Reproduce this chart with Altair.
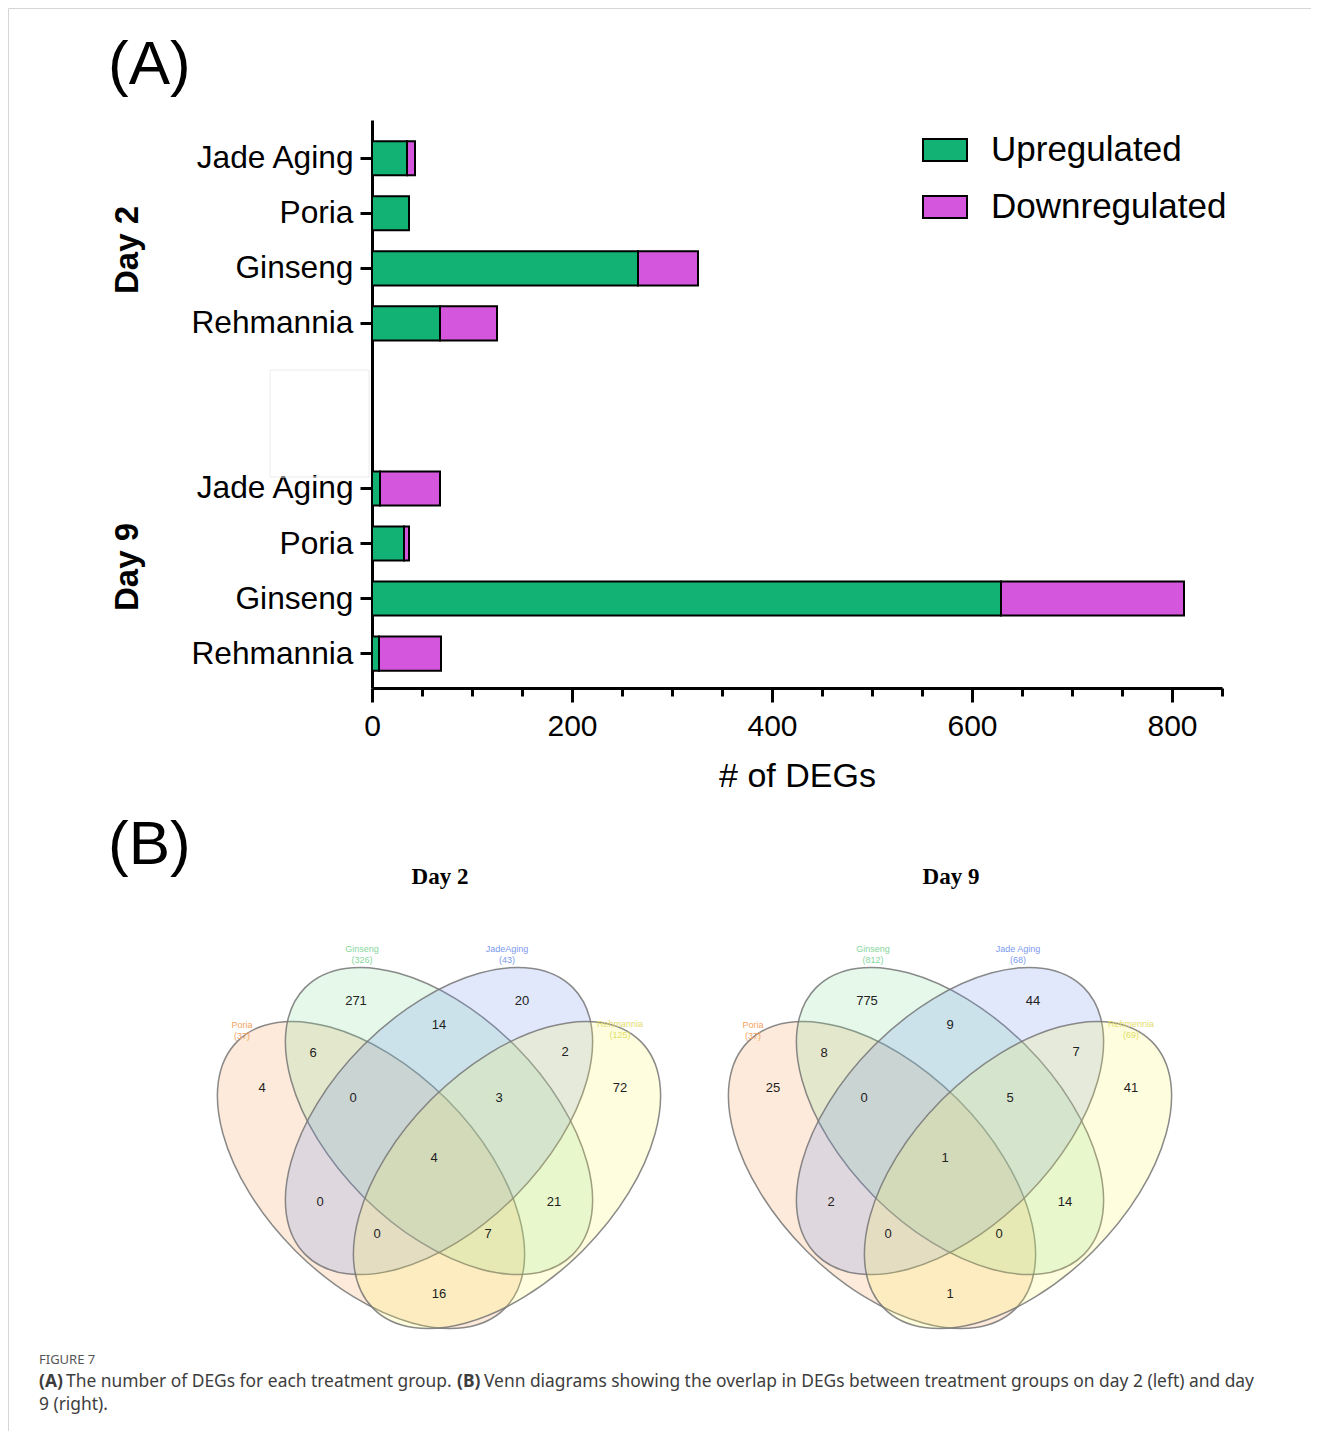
import altair as alt
import pandas as pd

# ---------------- data ----------------
treatments = ["Jade Aging", "Poria", "Ginseng", "Rehmannia"]
day_labels = ["Day 2", "Day 9"]
up_day2 = [35, 37, 266, 68]
down_day2 = [8, 0, 60, 57]
up_day9 = [8, 32, 629, 7]
down_day9 = [60, 5, 183, 62]
directions = ["Upregulated", "Downregulated"]
x_label_ticks = [0, 200, 400, 600, 800]

venn_titles = ["Day 2", "Day 9"]
venn_set_keys = ["P", "G", "J", "R"]
venn_set_names_day2 = ["Poria", "Ginseng", "JadeAging", "Rehmannia"]
venn_set_names_day9 = ["Poria", "Ginseng", "Jade Aging", "Rehmennia"]
venn_regions = ["G", "J", "GJ", "PG", "JR", "P", "PGJ", "GJR", "R", "PGJR", "PJ", "GR", "PJR", "PGR", "PR"]
venn_day2 = [271, 20, 14, 6, 2, 4, 0, 3, 72, 4, 0, 21, 0, 7, 16]
venn_day9 = [775, 44, 9, 8, 7, 25, 0, 5, 41, 1, 2, 14, 0, 0, 1]

caption_head = "FIGURE 7"
caption_parts = ["(A)", "The number of DEGs for each treatment group.", "(B)",
                 "Venn diagrams showing the overlap in DEGs between treatment groups on day 2 (left) and day"]
caption_line2 = "9  (right)."

# ---------------- styles / layout (pixels relative to the bar plot origin) ----------------
FONT = "Liberation Sans"
PLOT_W, PLOT_H = 850, 568
bar_colors = ["#12B275", "#D456DC"]
set_fill = ["#F79646", "#7FDE95", "#698AEE", "#F9F453"]
set_label_color = ["#F4A261", "#86D69C", "#7C9AEE", "#E3DD6A"]

ell_center = {"P": (-68, 54), "G": (0, 0), "J": (0, 0), "R": (68, 54)}
ell_angle = {"P": 45, "G": 45, "J": 135, "R": 135}
A_SEMI, B_SEMI = 189, 107
region_xy = {
    "G": (-83, -120), "J": (83, -120), "GJ": (0, -96), "PG": (-126, -68), "JR": (126, -69),
    "P": (-177, -33), "PGJ": (-86, -23), "GJR": (60, -23), "R": (181, -33), "PGJR": (-5, 37),
    "PJ": (-119, 81), "GR": (115, 81), "PJR": (-62, 113), "PGR": (49, 113), "PR": (0, 173),
}
set_label_xy = {"P": (-197, -96), "G": (-77, -172), "J": (68, -172), "R": (181, -97)}
panel_dx = [0, 511]
title_xy = (1, -244)
# venn coordinate window that coincides with the bar plot area (1 unit = 1 px)
VX = [-67, 783]
VY = [-1001, -433]

# ---------------- panel A: stacked bars ----------------
rows = []
for d, ups, downs in [("2", up_day2, down_day2), ("9", up_day9, down_day9)]:
    for t, u, dn in zip(treatments, ups, downs):
        rows.append({"key": f"{t}|{d}", "direction": directions[0], "count": u, "ord": 0})
        rows.append({"key": f"{t}|{d}", "direction": directions[1], "count": dn, "ord": 1})
bar_df = pd.DataFrame(rows)
y_domain = [f"{t}|2" for t in treatments] + ["gap1", "gap2"] + [f"{t}|9" for t in treatments]
minor_ticks = list(range(0, 851, 50))

bars = alt.Chart(bar_df).mark_bar(stroke="black", strokeWidth=2).encode(
    x=alt.X(
        "count:Q", stack="zero",
        scale=alt.Scale(domain=[0, 850], nice=False),
        axis=alt.Axis(
            values=minor_ticks,
            labelExpr="indexof([" + ",".join(str(v) for v in x_label_ticks) + "], datum.value) >= 0 ? datum.label : ''",
            title="# of DEGs", titleFontSize=34, titleFont=FONT, titleFontWeight="normal",
            titleColor="black", titlePadding=18,
            labelFontSize=30, labelFont=FONT, labelColor="black", labelFlush=False,
            labelPadding=9, labelOverlap=False,
            tickSize={"condition": {"test": "datum.value % 200 == 0", "value": 14}, "value": 8},
            tickWidth=3, tickColor="black", domainWidth=3, domainColor="black", grid=False,
        ),
    ),
    y=alt.Y(
        "key:N",
        scale=alt.Scale(domain=y_domain, paddingInner=0.38, paddingOuter=0.35, align=0.55),
        axis=alt.Axis(
            title=None,
            labelExpr="indexof(datum.value, 'gap') >= 0 ? '' : split(datum.value, '|')[0]",
            labelFontSize=31.7, labelFont=FONT, labelColor="black", labelPadding=7,
            tickSize=12, tickWidth=3, tickColor="black",
            tickOpacity={"condition": {"test": "indexof(datum.value, 'gap') >= 0", "value": 0}, "value": 1},
            domainWidth=3, domainColor="black", grid=False,
        ),
    ),
    color=alt.Color(
        "direction:N",
        scale=alt.Scale(domain=directions, range=bar_colors),
        legend=alt.Legend(
            orient="none", legendX=550, legendY=7, title=None,
            symbolType="M-1,-0.5H1V0.5H-1Z", symbolSize=1936,
            symbolStrokeColor="black", symbolStrokeWidth=2, symbolOpacity=1,
            labelFontSize=35, labelFont=FONT, labelColor="black", labelOffset=23,
            rowPadding=16, padding=0, labelLimit=400,
        ),
    ),
    order=alt.Order("ord:Q"),
)

one = pd.DataFrame({"t": [""]})


def text_at(txt, x, y, **kw):
    return alt.Chart(pd.DataFrame({"t": [txt]})).mark_text(**kw).encode(
        text="t:N", x=alt.value(x), y=alt.value(y)
    )


annot = []
for lab, ypix in zip(day_labels, [130, 447]):
    annot.append(text_at(lab, -244, ypix, angle=270, fontSize=33, fontWeight="bold", font=FONT,
                         color="black", align="center", baseline="middle"))
annot.append(text_at("(A)", -264, -36, align="left", baseline="alphabetic", fontSize=62, font=FONT, color="black"))
annot.append(text_at("(B)", -264, 744, align="left", baseline="alphabetic", fontSize=62, font=FONT, color="black"))

# caption
cap_kw = dict(align="left", baseline="middle", font="Noto Sans", fontSize=17.4, color="#3d3d3d")
annot.append(text_at(caption_head, -333, 1240, align="left", baseline="middle", font="Noto Sans",
                     fontSize=13, color="#555555"))
annot.append(text_at(caption_parts[0], -333, 1262, fontWeight="bold", **cap_kw))
annot.append(text_at(caption_parts[1], -306, 1262, **cap_kw))
annot.append(text_at(caption_parts[2], 85, 1262, fontWeight="bold", **cap_kw))
annot.append(text_at(caption_parts[3], 112, 1262, **cap_kw))
annot.append(text_at(caption_line2, -333, 1285, **cap_kw))

# figure frame and faint box
frame_color = "#d6d6d6"
frame_v = alt.Chart(one).mark_rule(color=frame_color, strokeWidth=1).encode(
    x=alt.value(-363.5), y=alt.value(-111.5), y2=alt.value(1311))
frame_h = alt.Chart(one).mark_rule(color=frame_color, strokeWidth=1).encode(
    y=alt.value(-111.5), x=alt.value(-363.5), x2=alt.value(939))
faint_box = alt.Chart(one).mark_rect(fillOpacity=0, stroke="#ececec", strokeWidth=1).encode(
    x=alt.value(-102), x2=alt.value(-3), y=alt.value(250), y2=alt.value(357))

# ---------------- panel B: Venn diagrams ----------------
r = B_SEMI / A_SEMI
k = 0.5523
ellipse_path = (
    f"M1,0 C1,{k*r:.4f} {k:.4f},{r:.4f} 0,{r:.4f} "
    f"C{-k:.4f},{r:.4f} -1,{k*r:.4f} -1,0 "
    f"C-1,{-k*r:.4f} {-k:.4f},{-r:.4f} 0,{-r:.4f} "
    f"C{k:.4f},{-r:.4f} 1,{-k*r:.4f} 1,0 Z"
)

ell_rows, reg_rows, lab_rows, tit_rows = [], [], [], []
for p, (counts, names, title) in enumerate(
    [(venn_day2, venn_set_names_day2, venn_titles[0]), (venn_day9, venn_set_names_day9, venn_titles[1])]
):
    for i, s in enumerate(venn_set_keys):
        cx, cy = ell_center[s]
        ell_rows.append({"set": s, "x": panel_dx[p] + cx, "y": cy, "angle": ell_angle[s], "ord": p * 10 + i})
        total = sum(c for reg, c in zip(venn_regions, counts) if s in reg)
        lx, ly = set_label_xy[s]
        lab_rows.append({"lset": s, "x": panel_dx[p] + lx, "y": ly, "text": f"{names[i]}\n({total})"})
    for reg, c in zip(venn_regions, counts):
        rx, ry = region_xy[reg]
        reg_rows.append({"x": panel_dx[p] + rx, "y": ry, "count": c})
    tit_rows.append({"x": panel_dx[p] + title_xy[0], "y": title_xy[1], "text": title})

XS = alt.Scale(domain=VX, nice=False, zero=False)
YS = alt.Scale(domain=VY, nice=False, zero=False, reverse=True)
vx = alt.X("x:Q", scale=XS, axis=None)
vy = alt.Y("y:Q", scale=YS, axis=None)

ellipses = alt.Chart(pd.DataFrame(ell_rows)).mark_point(
    shape=ellipse_path, filled=True, size=(2 * A_SEMI) ** 2,
    fillOpacity=0.2, stroke="#767676", strokeWidth=1.5, strokeOpacity=0.85,
).encode(
    x=vx, y=vy,
    fill=alt.Fill("set:N", scale=alt.Scale(domain=venn_set_keys, range=set_fill), legend=None),
    angle=alt.Angle("angle:Q", scale=None),
    order=alt.Order("ord:Q"),
)

region_text = alt.Chart(pd.DataFrame(reg_rows)).mark_text(
    fontSize=13, font=FONT, color="#222222", align="center", baseline="middle"
).encode(x=vx, y=vy, text="count:Q")

set_text = alt.Chart(pd.DataFrame(lab_rows)).mark_text(
    fontSize=9, font=FONT, align="center", baseline="middle", lineBreak="\n", lineHeight=10.5
).encode(
    x=vx, y=vy, text="text:N",
    color=alt.Color("lset:N", scale=alt.Scale(domain=venn_set_keys, range=set_label_color), legend=None),
)

venn_title_text = alt.Chart(pd.DataFrame(tit_rows)).mark_text(
    fontSize=23, font="Liberation Serif", fontWeight="bold", color="black",
    align="center", baseline="middle",
).encode(x=vx, y=vy, text="text:N")

chart = alt.layer(
    frame_v, frame_h, faint_box, bars, *annot, ellipses, region_text, set_text, venn_title_text
).resolve_scale(
    x="independent", y="independent", color="independent", fill="independent"
).properties(
    width=PLOT_W, height=PLOT_H,
    autosize=alt.AutoSizeParams(type="none"),
    padding={"left": 364, "top": 112, "right": 89, "bottom": 743},
).configure(font=FONT, view=alt.ViewConfig(stroke=None))

chart.save("out.html", embed_options={"renderer": "svg", "actions": False})
